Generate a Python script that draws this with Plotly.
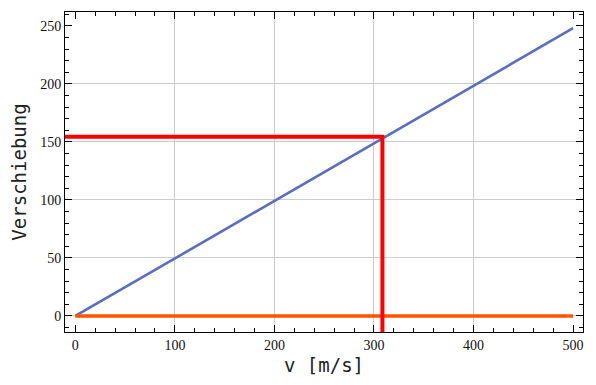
import plotly.graph_objects as go

# data
v_line = [0, 500]
s_line = [0, 248]
v_mark = 308.5
s_mark = 154.5
x_range = [-10.4, 510]
y_range = [-13.8, 262]
x_ticks = [0, 100, 200, 300, 400, 500]
y_ticks = [0, 50, 100, 150, 200, 250]
x_grid = [100, 200, 300, 400]
y_grid = [0, 50, 100, 150, 200]

fig = go.Figure()
# grid via overlay axes
fig.add_trace(go.Scatter(x=[None], y=[None], xaxis="x2", yaxis="y2", showlegend=False))

fig.add_trace(go.Scatter(x=v_line, y=s_line, mode="lines",
                         line=dict(color="#5A6DC0", width=2.6), showlegend=False))
fig.add_trace(go.Scatter(x=v_line, y=[0, 0], mode="lines",
                         line=dict(color="#FF5500", width=3.5), showlegend=False))
fig.add_trace(go.Scatter(x=[x_range[0], v_mark, v_mark], y=[s_mark, s_mark, y_range[0]],
                         mode="lines", line=dict(color="#FF0000", width=4), showlegend=False))

tickfont = dict(family="'Liberation Serif', 'Times New Roman', serif", size=14, color="#111")
titlefont = dict(family="'DejaVu Sans Mono', monospace", size=19, color="#222")
axis_common = dict(showgrid=False, zeroline=False, showline=True, linecolor="black",
                   linewidth=1, mirror="ticks", ticks="inside", ticklen=7,
                   tickcolor="black", tickwidth=1, tickfont=tickfont)

fig.update_layout(
    width=596, height=385,
    margin=dict(l=65, r=13, t=12, b=53),
    plot_bgcolor="white", paper_bgcolor="white",
    xaxis=dict(range=x_range, tickvals=x_ticks, **axis_common,
               minor=dict(dtick=20, tick0=0, ticks="inside", ticklen=4, tickcolor="black"),
               title=dict(text="v [m/s]", font=titlefont, standoff=6)),
    yaxis=dict(range=y_range, tickvals=y_ticks, **axis_common,
               minor=dict(dtick=10, tick0=0, ticks="inside", ticklen=4, tickcolor="black"),
               title=dict(text="Verschiebung", font=titlefont, standoff=8)),
    xaxis2=dict(range=x_range, overlaying="x", tickvals=x_grid, showticklabels=False,
                showgrid=True, gridcolor="#CCCCCC", gridwidth=1, zeroline=False, ticks="",
                layer="below traces"),
    yaxis2=dict(range=y_range, overlaying="y", tickvals=y_grid, showticklabels=False,
                showgrid=True, gridcolor="#CCCCCC", gridwidth=1, zeroline=False, ticks="",
                layer="below traces"),
)

fig.write_html("out.html")
